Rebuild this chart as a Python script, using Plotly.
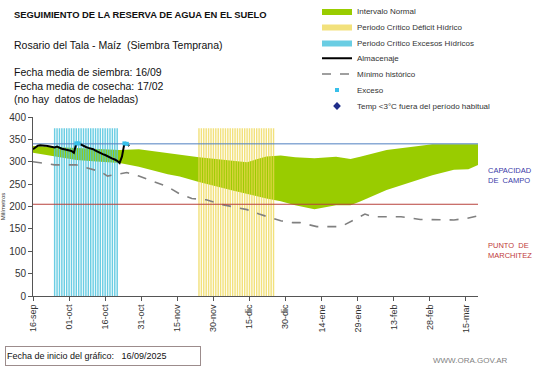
import pandas as pd
import plotly.graph_objects as go

# ---------------- data ----------------
START = "2025-09-16"

BAND_DATES = ["2025-09-16", "2025-09-25", "2025-10-04", "2025-10-14", "2025-10-22", "2025-10-30",
              "2025-11-11", "2025-11-16", "2025-11-24", "2025-12-08", "2025-12-14", "2025-12-22",
              "2025-12-28", "2026-01-03", "2026-01-11", "2026-01-20", "2026-01-26", "2026-01-30",
              "2026-02-10", "2026-02-20", "2026-03-01", "2026-03-10", "2026-03-16", "2026-03-20"]
BAND_UPPER = [335, 333, 330, 328, 326, 328, 319, 315, 310, 302, 299, 312,
              314, 310, 308, 311, 306, 311, 326, 333, 339, 339, 339, 339]
BAND_LOWER = [320, 312, 304, 300, 297, 289, 272, 267, 255, 236, 228, 218,
              212, 203, 194, 203, 203, 211, 237, 255, 270, 282, 283, 293]

MIN_DATES = ["2025-09-16", "2025-09-25", "2025-10-04", "2025-10-14", "2025-10-17", "2025-10-22",
             "2025-10-25", "2025-10-30", "2025-11-11", "2025-11-16", "2025-11-21", "2025-11-27",
             "2025-12-03", "2025-12-14", "2025-12-19", "2025-12-28", "2026-01-02", "2026-01-05",
             "2026-01-12", "2026-01-22", "2026-02-01", "2026-02-04", "2026-02-16", "2026-02-24",
             "2026-03-10", "2026-03-15", "2026-03-20"]
MIN_VALUES = [300, 293, 293, 278, 268, 272, 276, 268, 244, 228, 218, 215,
              205, 193, 183, 168, 164, 164, 155, 155, 183, 177, 177, 171,
              170, 173, 179]

# daily soil water storage from 16-sep
ALMACENAJE = [328, 333, 336, 337, 337, 336, 335, 334, 333, 332,
              334, 331, 329, 328, 327, 326, 324, 320, 341, 341,
              338, 336, 333, 331, 330, 328, 325, 322, 319, 317,
              315, 312, 310, 307, 305, 302, 297, 312, 341, 340, 335]

EXCESO_DATES = ["2025-10-04", "2025-10-05", "2025-10-24", "2025-10-25"]
EXCESO_VALUES = [341, 341, 341, 340]

EXCESOS_PERIOD = ("2025-09-25", "2025-10-21")
DEFICIT_PERIOD = ("2025-11-24", "2025-12-25")
PERIOD_TOP = 375

CAPACIDAD_CAMPO = 340
PUNTO_MARCHITEZ = 205
X_END = "2026-03-20"

TICK_DATES = ["2025-09-16", "2025-10-01", "2025-10-16", "2025-10-31", "2025-11-15", "2025-11-30",
              "2025-12-15", "2025-12-30", "2026-01-14", "2026-01-29", "2026-02-13", "2026-02-28",
              "2026-03-15"]
TICK_LABELS = ["16-sep", "01-oct", "16-oct", "31-oct", "15-nov", "30-nov", "15-dic", "30-dic",
               "14-ene", "29-ene", "13-feb", "28-feb", "15-mar"]

# ---------------- helpers ----------------
def stripes(period, half_width_days=0.3):
    xs, ys = [], []
    for d in pd.date_range(period[0], period[1], freq="D"):
        a = d - pd.Timedelta(days=half_width_days)
        b = d + pd.Timedelta(days=half_width_days)
        xs += [a, b, b, a, a, None]
        ys += [0, 0, PERIOD_TOP, PERIOD_TOP, 0, None]
    return xs, ys

FONT = "Liberation Sans, Arial, sans-serif"
W, H = 541, 368
alm_dates = pd.date_range(START, periods=len(ALMACENAJE), freq="D")

# legend slots (one legend per entry so spacing matches the reference)
LEG_ROWS = {"legend": 11, "legend2": 26.5, "legend3": 42.5, "legend4": 58.3,
            "legend5": 74, "legend6": 90, "legend7": 106}

fig = go.Figure()

# normal interval band
fig.add_trace(go.Scatter(x=BAND_DATES, y=BAND_LOWER, mode="lines", line=dict(width=0),
                         showlegend=False, hoverinfo="skip"))
fig.add_trace(go.Scatter(x=BAND_DATES, y=BAND_UPPER, mode="lines", line=dict(width=0, color="#99CC00"),
                         fill="tonexty", fillcolor="#99CC00", name="Intervalo Normal", legend="legend"))

# critical periods (striped)
xs, ys = stripes(EXCESOS_PERIOD)
fig.add_trace(go.Scatter(x=xs, y=ys, mode="lines", fill="toself", fillcolor="rgba(80,196,222,0.85)",
                         line=dict(width=0, color="#4FC3DE"), name="Periodo Crítico Excesos Hídricos",
                         legend="legend3", hoverinfo="skip"))
xs, ys = stripes(DEFICIT_PERIOD)
fig.add_trace(go.Scatter(x=xs, y=ys, mode="lines", fill="toself", fillcolor="rgba(238,215,80,0.75)",
                         line=dict(width=0, color="#F2C200"), name="Periodo Crítico Déficit Hídrico",
                         legend="legend2", hoverinfo="skip"))

# historical minimum
fig.add_trace(go.Scatter(x=MIN_DATES, y=MIN_VALUES, mode="lines",
                         line=dict(color="#808080", width=1.6, dash="dash"),
                         name="Mínimo histórico", legend="legend5"))

# reference lines
fig.add_trace(go.Scatter(x=[START, X_END], y=[CAPACIDAD_CAMPO] * 2, mode="lines",
                         line=dict(color="#4F7FC0", width=1), showlegend=False, hoverinfo="skip"))
fig.add_trace(go.Scatter(x=[START, X_END], y=[PUNTO_MARCHITEZ] * 2, mode="lines",
                         line=dict(color="#B8413C", width=1), showlegend=False, hoverinfo="skip"))

# storage
fig.add_trace(go.Scatter(x=alm_dates, y=ALMACENAJE, mode="lines", line=dict(color="black", width=2),
                         name="Almacenaje", legend="legend4"))
fig.add_trace(go.Scatter(x=EXCESO_DATES, y=EXCESO_VALUES, mode="markers",
                         marker=dict(color="#38C0EA", size=4, symbol="square"),
                         name="Exceso", legend="legend6"))
fig.add_trace(go.Scatter(x=[None], y=[None], mode="markers",
                         marker=dict(color="#1F2D8A", size=6, symbol="diamond"),
                         name="Temp <3°C fuera del período habitual", legend="legend7"))

# ---------------- layout ----------------
L, R, T, B = 33, 478, 117, 296
def px(x):
    return (x - L) / (R - L)
def py(y):
    return (B - y) / (B - T)

legends = {}
for key, row in LEG_ROWS.items():
    legends[key] = dict(x=317 / W, y=1 - row / H, xref="container", yref="container",
                        xanchor="left", yanchor="middle", traceorder="normal",
                        font=dict(size=8, family=FONT, color="#333333"),
                        bgcolor="rgba(0,0,0,0)", itemwidth=30, borderwidth=0)

fig.update_layout(
    width=W, height=H,
    margin=dict(l=L, r=W - R, t=T, b=H - B, autoexpand=False),
    paper_bgcolor="white", plot_bgcolor="white",
    font=dict(family=FONT, color="#222222"),
    showlegend=True,
    xaxis=dict(type="date", range=[START, X_END], tickvals=TICK_DATES, ticktext=TICK_LABELS,
               tickangle=-90, tickfont=dict(size=9, color="#333333"), showgrid=False, zeroline=False,
               showline=True, linecolor="#555555", linewidth=1, ticks="outside", ticklen=4,
               tickcolor="#555555", automargin=False),
    yaxis=dict(range=[0, 400], dtick=50, tickfont=dict(size=10, color="#333333"), showgrid=False,
               zeroline=False, showline=True, linecolor="#555555", linewidth=1, ticks="outside",
               ticklen=4, tickcolor="#555555", automargin=False,
               title=dict(text="Milímetros", font=dict(size=6, color="#333333"), standoff=4)),
    **legends,
)

ann = [
    dict(text="<b>SEGUIMIENTO DE LA RESERVA DE AGUA EN EL SUELO</b>", x=px(12), y=py(14), size=9.4),
    dict(text="Rosario del Tala - Maíz  (Siembra Temprana)", x=px(12), y=py(45), size=10.5),
    dict(text="Fecha media de siembra: 16/09", x=px(12), y=py(72), size=10.5),
    dict(text="Fecha media de cosecha: 17/02", x=px(12), y=py(85.5), size=10.5),
    dict(text="(no hay  datos de heladas)", x=px(12), y=py(99), size=10.5),
]
for a in ann:
    fig.add_annotation(text=a["text"], x=a["x"], y=a["y"], xref="paper", yref="paper",
                       xanchor="left", yanchor="middle", showarrow=False,
                       font=dict(size=a["size"], family=FONT, color="#111111"))

fig.add_annotation(text="CAPACIDAD<br>DE  CAMPO", x=px(486), y=py(175), xref="paper", yref="paper",
                   xanchor="left", yanchor="middle", showarrow=False, align="left",
                   font=dict(size=7.5, family=FONT, color="#3A3AA8"))
fig.add_annotation(text="PUNTO  DE<br>MARCHITEZ", x=px(486), y=py(250), xref="paper", yref="paper",
                   xanchor="left", yanchor="middle", showarrow=False, align="left",
                   font=dict(size=7.5, family=FONT, color="#C03A3A"))
fig.add_annotation(text="Fecha de inicio del gráfico:   16/09/2025", x=px(5), y=py(355.5),
                   xref="paper", yref="paper", xanchor="left", yanchor="middle", showarrow=False,
                   align="left", width=192, height=16, borderpad=1, bordercolor="#9C8C8C",
                   borderwidth=1, font=dict(size=9, family=FONT, color="#111111"))
fig.add_annotation(text="WWW.ORA.GOV.AR", x=px(470), y=py(360), xref="paper", yref="paper",
                   xanchor="center", yanchor="middle", showarrow=False,
                   font=dict(size=8, family=FONT, color="#7F7F7F"))

fig.write_html("out.html", config={"displayModeBar": False},
               post_script="document.body.style.margin='0';")
